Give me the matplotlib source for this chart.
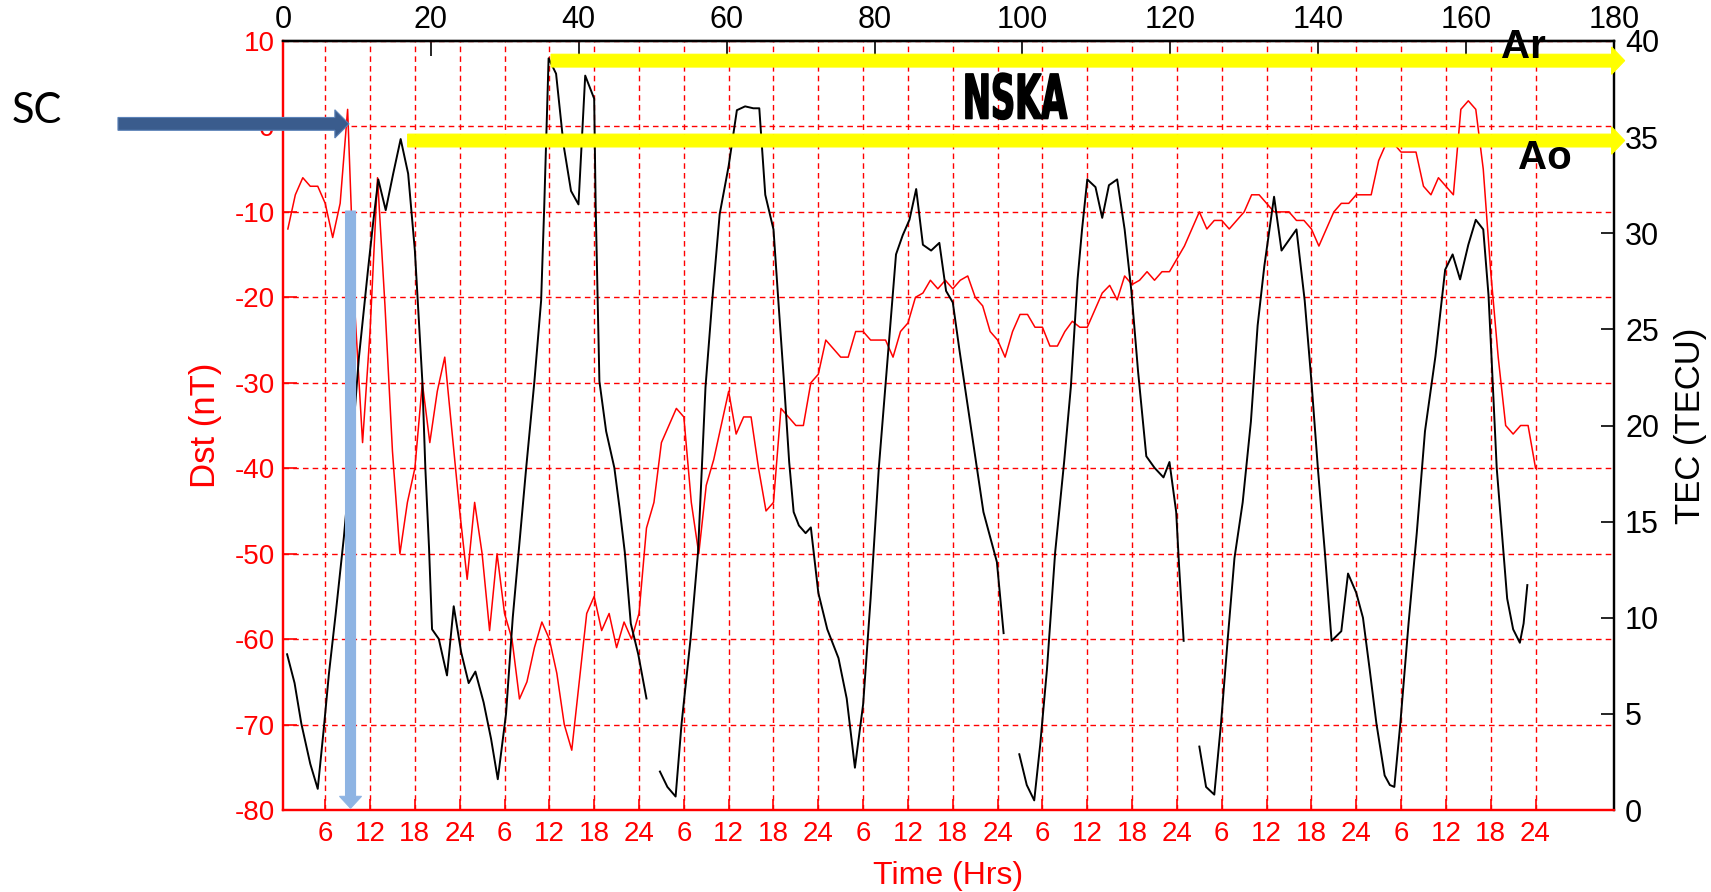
import numpy as np
import matplotlib
matplotlib.use('Agg')
import matplotlib.pyplot as plt
import matplotlib.transforms as mtransforms
from matplotlib.patches import FancyArrow
from matplotlib.patheffects import AbstractPathEffect

plt.rcParams['font.family'] = ['Liberation Sans', 'DejaVu Sans']
plt.rcParams['axes.unicode_minus'] = False

# ---------------- data ----------------
dst_hours = np.arange(1, 169)
dst_values = [
    -12, -8, -6, -7, -7, -9, -13, -9, 2,
    -22, -37, -24, -6, -21, -38, -50, -44, -40, -30,
    -37, -31, -27, -36, -45, -53, -44, -50, -59, -50,
    -57, -60, -67, -65, -61, -58, -60, -64, -70, -73,
    -65, -57, -55, -59, -57, -61, -58, -60, -57, -47,
    -44, -37, -35, -33, -34, -44, -50, -42, -39, -35,
    -31, -36, -34, -34, -40, -45, -44, -33, -34, -35,
    -35, -30, -29, -25, -26, -27, -27, -24, -24, -25,
    -25, -25, -27, -24, -23, -20, -19.5, -18, -19, -18,
    -19, -18, -17.5, -20, -21, -24, -25, -27, -24, -22,
    -22, -23.5, -23.5, -25.7, -25.7, -24, -22.8, -23.5, -23.5, -21.5,
    -19.5, -18.6, -20.3, -17.5, -18.5, -18, -17, -18, -17, -17,
    -15.5, -14, -12, -10, -12, -11, -11, -12, -11, -10,
    -8, -8, -9, -10, -10, -10, -11, -11, -12, -14,
    -12, -10, -9, -9, -8, -8, -8, -4, -2, -2,
    -3, -3, -3, -7, -8, -6, -7, -8, 2, 3,
    2, -5, -17, -27, -35, -36, -35, -35, -40,
]

tec_hours = [
    0.9, 1.9, 2.8, 4.0, 5.0, 5.8, 6.5, 7.4, 8.5, 9.5, 10.5, 11.7, 12.4, 13.1,
    14.1, 15.1, 16.1, 17.1, 18.0, 18.5, 19.0, 19.4, 19.9, 20.3, 21.2, 22.3,
    23.2, 24.2, 25.2, 26.1, 27.2, 28.2, 29.1, 30.2, 31.1, 32.0, 32.9, 34.0,
    34.9, 35.3, 35.9, 36.9, 37.9, 38.9, 39.9, 40.8, 42.0, 42.2, 42.7, 43.6,
    44.7, 45.4, 46.1, 46.9, 47.9, 49.0,
    49.9,
    50.8, 51.8, 52.9, 53.7, 54.9, 55.9, 56.9, 57.8, 58.8, 60.0, 61.1, 62.2,
    63.3, 64.1, 64.9, 66.0, 66.7, 67.4, 68.1, 68.7, 69.4, 70.3, 71.0, 72.0,
    73.2, 74.7, 75.8, 76.9, 78.0, 79.0, 80.1, 81.3, 82.4, 83.3, 84.2, 85.1,
    86.0, 87.1, 88.2, 89.1, 90.0, 90.9, 92.0, 93.2, 94.1, 95.0, 95.9, 96.8,
    97.8,
    98.9, 99.9, 100.9, 101.7, 102.6, 103.7, 104.9, 105.8, 106.7, 107.3,
    108.0, 109.1, 110.0, 110.9, 112.0, 113.0, 113.9, 114.8, 115.9, 117.0,
    118.2, 119.0, 119.9, 120.3, 120.9,
    122.0,
    123.0, 123.9, 125.0, 125.9, 126.8, 127.7, 128.8, 129.9, 130.8, 131.7,
    133.0, 134.0, 135.1, 136.0, 137.1, 138.0, 138.9, 139.8, 140.7, 142.0,
    142.9, 144.0, 144.9, 145.8, 146.7, 147.8, 148.5, 149.1, 149.9, 151.0,
    152.1, 153.2, 154.6, 155.9, 156.9, 157.9, 159.0, 160.0, 161.0, 161.7,
    162.1, 162.8, 163.5, 164.2, 165.0, 165.9, 166.4, 166.9,
]
tec_values = [
    8.1, 6.6, 4.5, 2.4, 1.1, 4.2, 7.1, 10.2, 14.2, 18.5, 23.5, 28.0, 30.5, 32.8,
    31.2, 33.1, 34.9, 33.1, 29.1, 25.7, 22.3, 17.8, 13.6, 9.4, 8.9, 7.0,
    10.6, 8.2, 6.6, 7.2, 5.6, 3.7, 1.6, 5.0, 10.0, 13.9, 17.8, 22.3,
    26.5, 31.2, 39.1, 38.3, 34.6, 32.2, 31.5, 38.2, 37.0, 31.4, 22.3, 19.7,
    17.8, 15.7, 13.4, 9.7, 8.1, 5.8,
    np.nan,
    2.0, 1.2, 0.7, 4.5, 8.9, 13.4, 22.0, 26.5, 31.0, 33.5, 36.4, 36.6,
    36.5, 36.5, 32.0, 30.2, 26.2, 22.3, 18.1, 15.5, 14.8, 14.4, 14.7, 11.3,
    9.4, 7.9, 5.8, 2.2, 5.5, 11.0, 17.8, 23.6, 28.9, 29.9, 30.7, 32.3,
    29.4, 29.1, 29.5, 27.0, 26.4, 23.9, 21.0, 17.8, 15.5, 14.2, 12.9, 9.2,
    np.nan,
    2.9, 1.3, 0.5, 3.4, 7.3, 13.4, 18.1, 22.0, 27.6, 30.2,
    32.8, 32.4, 30.8, 32.5, 32.8, 30.2, 27.0, 22.8, 18.4, 17.8,
    17.3, 18.1, 15.5, 12.6, 8.8,
    np.nan,
    3.3, 1.2, 0.8, 4.5, 8.9, 13.1, 16.0, 20.2, 25.2, 28.3,
    31.9, 29.1, 29.7, 30.2, 26.5, 22.3, 17.6, 13.4, 8.8, 9.3,
    12.3, 11.3, 10.0, 7.3, 4.5, 1.8, 1.3, 1.2, 4.5, 9.7,
    14.4, 19.7, 23.6, 28.1, 28.9, 27.6, 29.4, 30.7, 30.2, 26.8,
    23.6, 17.8, 14.4, 11.0, 9.4, 8.7, 9.7, 11.7,
]

top_ticks = list(range(0, 181, 20))
hour_ticks = list(range(6, 169, 6))
hour_labels = ['6', '12', '18', '24'] * 7
dst_ticks = list(range(-80, 11, 10))
tec_ticks = list(range(0, 41, 5))

RED = '#FF0000'

# ---------------- figure ----------------
W, H = 1711, 892
fig = plt.figure(figsize=(W / 100, H / 100), dpi=100)
L, R, T, B = 283, 1614, 41, 810
ax = fig.add_axes([L / W, 1 - B / H, (R - L) / W, (B - T) / H])
XLO, XHI = 0.35, 178.5          # hour range spanned by the frame
ax.set_xlim(XLO, XHI)
ax.set_ylim(-80, 10)

ax.plot(dst_hours, dst_values, color=RED, lw=1.1, zorder=3)

ax.set_xticks(hour_ticks)
ax.set_xticklabels(hour_labels)
ax.set_yticks(dst_ticks)
ax.set_yticklabels([str(v) for v in dst_ticks])
ax.tick_params(axis='x', direction='in', length=8, width=1.2, colors=RED,
               labelsize=20, pad=8)
ax.tick_params(axis='y', direction='in', length=10, width=1.2, colors=RED,
               labelsize=20, pad=6)
ax.grid(True, color=RED, linestyle=(0, (4, 3)), linewidth=1.0)

ax.set_xlabel('Time (Hrs)', color=RED, fontsize=23)
ax.xaxis.set_label_coords(0.5, -0.066)
ax.set_ylabel('Dst (nT)', color=RED, fontsize=25)
ax.yaxis.set_label_coords(-0.046, 0.5)


def to_top(h):
    return (np.asarray(h) - XLO) * 180.0 / (XHI - XLO)


def from_top(t):
    return np.asarray(t) * (XHI - XLO) / 180.0 + XLO


secax = ax.secondary_xaxis('top', functions=(to_top, from_top))
secax.set_xticks(top_ticks)
secax.set_xticklabels([str(v) for v in top_ticks])
secax.tick_params(axis='x', direction='in', length=11, width=1.2, colors='black',
                  labelsize=22, pad=4)
secax.spines['top'].set_color('black')
secax.spines['top'].set_linewidth(1.6)

ax2 = ax.twinx()
ax2.set_ylim(0, 40)
ax2.plot(tec_hours, tec_values, color='black', lw=1.4, zorder=3)
ax2.set_yticks(tec_ticks)
ax2.set_yticklabels([str(v) for v in tec_ticks])
ax2.tick_params(axis='y', direction='in', length=9.5, width=1.2, colors='black',
                labelsize=22, pad=8)
ax2.set_ylabel('TEC (TECU)', color='black', fontsize=25, rotation=90)
ax2.yaxis.set_label_coords(1.045, 0.5)

for a in (ax, ax2):
    a.spines['left'].set_color(RED)
    a.spines['bottom'].set_color(RED)
    a.spines['top'].set_color('black')
    a.spines['right'].set_color('black')
    for s in a.spines.values():
        s.set_linewidth(1.6)

# ---------------- annotations (in Dst / hour coordinates) ----------------
tr = ax.transData
arrows = [
    dict(x=-21.74, y=0.3, dx=30.93, dy=0, width=1.5, head_width=3.3, head_length=1.9,
         fc='#3A5C8D', ec='#5B82B8'),
    dict(x=9.39, y=-9.9, dx=0, dy=-69.9, width=1.34, head_width=2.95, head_length=1.4,
         fc='#8EB4E3', ec='#8EB4E3'),
    dict(x=36.23, y=7.7, dx=143.7, dy=0, width=1.5, head_width=3.2, head_length=1.75,
         fc='#FFFF00', ec='#FFFF00'),
    dict(x=17.03, y=-1.65, dx=162.9, dy=0, width=1.5, head_width=3.2, head_length=1.75,
         fc='#FFFF00', ec='#FFFF00'),
]
for a in arrows:
    p = FancyArrow(a['x'], a['y'], a['dx'], a['dy'], width=a['width'],
                   head_width=a['head_width'], head_length=a['head_length'],
                   length_includes_head=True, facecolor=a['fc'], edgecolor=a['ec'],
                   linewidth=0.8, transform=tr, clip_on=False, zorder=10)
    ax2.add_patch(p)


class Squeeze(AbstractPathEffect):
    def __init__(self, sx, cx, lw):
        super().__init__()
        self.sx, self.cx, self.lw = sx, cx, lw

    def draw_path(self, renderer, gc, tpath, affine, rgbFace=None):
        aff = affine + mtransforms.Affine2D().translate(-self.cx, 0).scale(self.sx, 1).translate(self.cx, 0)
        gc0 = renderer.new_gc()
        gc0.copy_properties(gc)
        gc0.set_linewidth(self.lw)
        gc0.set_foreground('black')
        renderer.draw_path(gc0, tpath, aff, rgbFace)
        gc0.restore()


fig.text(37 / W, 1 - 111 / H, 'SC', fontsize=30, family=['Lato', 'DejaVu Sans'],
         ha='center', va='center', color='black')
fig.text(1523 / W, 1 - 47 / H, 'Ar', fontsize=29, fontweight='bold',
         ha='center', va='center', color='black', zorder=12)
fig.text(1545 / W, 1 - 158 / H, 'Ao', fontsize=29, fontweight='bold',
         ha='center', va='center', color='black', zorder=12)
fig.text(1015 / W, 1 - 102 / H, 'NSKA', fontsize=44, fontweight='bold',
         family=['DejaVu Sans'], ha='center', va='center', color='black',
         path_effects=[Squeeze(0.55, 1015, 1.2)], zorder=12)

fig.savefig('out.png', dpi=100)
